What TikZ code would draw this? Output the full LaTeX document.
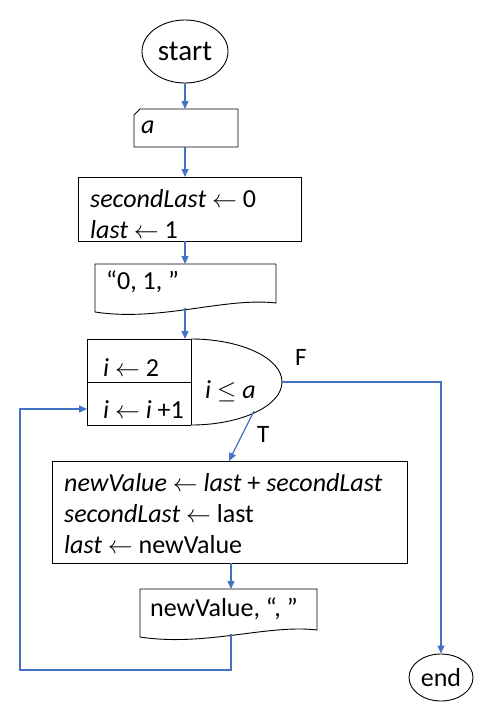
\documentclass[tikz,border=0pt]{standalone}
\usepackage{fontspec}
\setmainfont{Carlito}
\usetikzlibrary{arrows.meta,shapes.geometric}
\definecolor{arr}{HTML}{4472C4}
\begin{document}
\begin{tikzpicture}[x=1pt,y=-1pt,
  flow/.style={draw=arr, line width=1.3pt, -{Triangle[length=8pt,width=7pt]}},
  link/.style={draw=arr, line width=1.3pt},
  outline/.style={draw=black, line width=0.9pt},
  txt/.style={inner sep=0pt, anchor=base west, font=\fontsize{26}{30}\selectfont},
  lbl/.style={inner sep=0pt, anchor=base west, font=\fontsize{25}{30}\selectfont},
  term/.style={draw=black, line width=0.9pt, ellipse, inner sep=0pt}]
\useasboundingbox (0,0) rectangle (481,709);
% start
\node[term, minimum width=86pt, minimum height=63pt, font=\fontsize{29}{32}\selectfont] (start) at (185,51.5) {start};
% input a
\draw[outline] (140,109) -- (238,109) -- (238,147) -- (134,147) -- (134,115) -- cycle;
\coordinate (inTop) at (185,109);
\coordinate (inBot) at (185,147);
\node[txt] (ta) at (141,133) {\itshape a};
% box1
\draw[outline] (78,177) rectangle (301,241);
\coordinate (b1Top) at (185,177);
\coordinate (b1Bot) at (185,241);
\node[txt] (t1a) at (90,207) {\itshape secondLast\/ \upshape$\leftarrow$ 0};
\node[txt] (t1b) at (90,238) {\itshape last\/ \upshape$\leftarrow$ 1};
% doc1
\draw[outline] (95,312) -- (95,264) -- (276,264) -- (276,303)
  .. controls (225,297) and (160,322) .. (95,312);
\coordinate (d1Top) at (185,264);
\coordinate (d1Bot) at (185,308);
\node[txt] (t2) at (106,289) {“0, 1, ”};
% loop box
\draw[outline] (191,339) -- (87,339) -- (87,425) -- (191,425);
\draw[outline] (87,382) -- (191,382);
\draw[outline] (191,339) -- (191,425);
\draw[outline] (191,339) arc[start angle=-90, end angle=90, x radius=91, y radius=43];
\coordinate (lpTop) at (185,339);
\coordinate (lpIn) at (87,409);
\coordinate (lpF) at (282,382);
\coordinate (lpT) at (254,411);
\node[txt] (t3a) at (103,376) {\itshape i\/ \upshape$\leftarrow$ 2};
\node[txt] (t3b) at (103,418) {\itshape i\/ \upshape$\leftarrow$ \itshape i\/ \upshape+1};
\node[txt] (t3c) at (205,398) {\itshape i\/ \upshape$\leq$ \itshape a};
\node[lbl] (F) at (295,365) {F};
\node[lbl] (T) at (257,442) {T};
% box2
\draw[outline] (52,461) rectangle (407,563);
\coordinate (b2Top) at (229,461);
\coordinate (b2Bot) at (231,563);
\node[txt] (t4a) at (64,491) {\itshape newValue\/ \upshape$\leftarrow$ \itshape last\/ \upshape+ \itshape secondLast};
\node[txt] (t4b) at (64,522) {\itshape secondLast\/ \upshape$\leftarrow$ last};
\node[txt] (t4c) at (64,553) {\itshape last\/ \upshape$\leftarrow$ newValue};
% doc2
\draw[outline] (140,637) -- (140,589) -- (317,589) -- (317,630)
  .. controls (268,624) and (205,647) .. (140,637);
\coordinate (d2Top) at (231,589);
\coordinate (d2Bot) at (231,634);
\node[txt] (t5) at (150,616) {newValue, “, ”};
% end
\node[term, minimum width=64pt, minimum height=47pt, font=\fontsize{26}{30}\selectfont] (end) at (441,677.5) {end};
\coordinate (fCorner) at (441,382);
\coordinate (loopA) at (231,670);
\coordinate (loopB) at (20,670);
\coordinate (loopC) at (20,409);
% connectors
\draw[flow] (start.south) -- (inTop);
\draw[flow] (inBot) -- (b1Top);
\draw[flow] (b1Bot) -- (d1Top);
\draw[flow] (d1Bot) -- (lpTop);
\draw[flow] (lpT) -- (b2Top);
\draw[flow] (b2Bot) -- (d2Top);
\draw[flow] (lpF) -- (fCorner) -- (end.north);
\draw[flow] (d2Bot) -- (loopA) -- (loopB) -- (loopC) -- (lpIn);
\end{tikzpicture}
\end{document}
